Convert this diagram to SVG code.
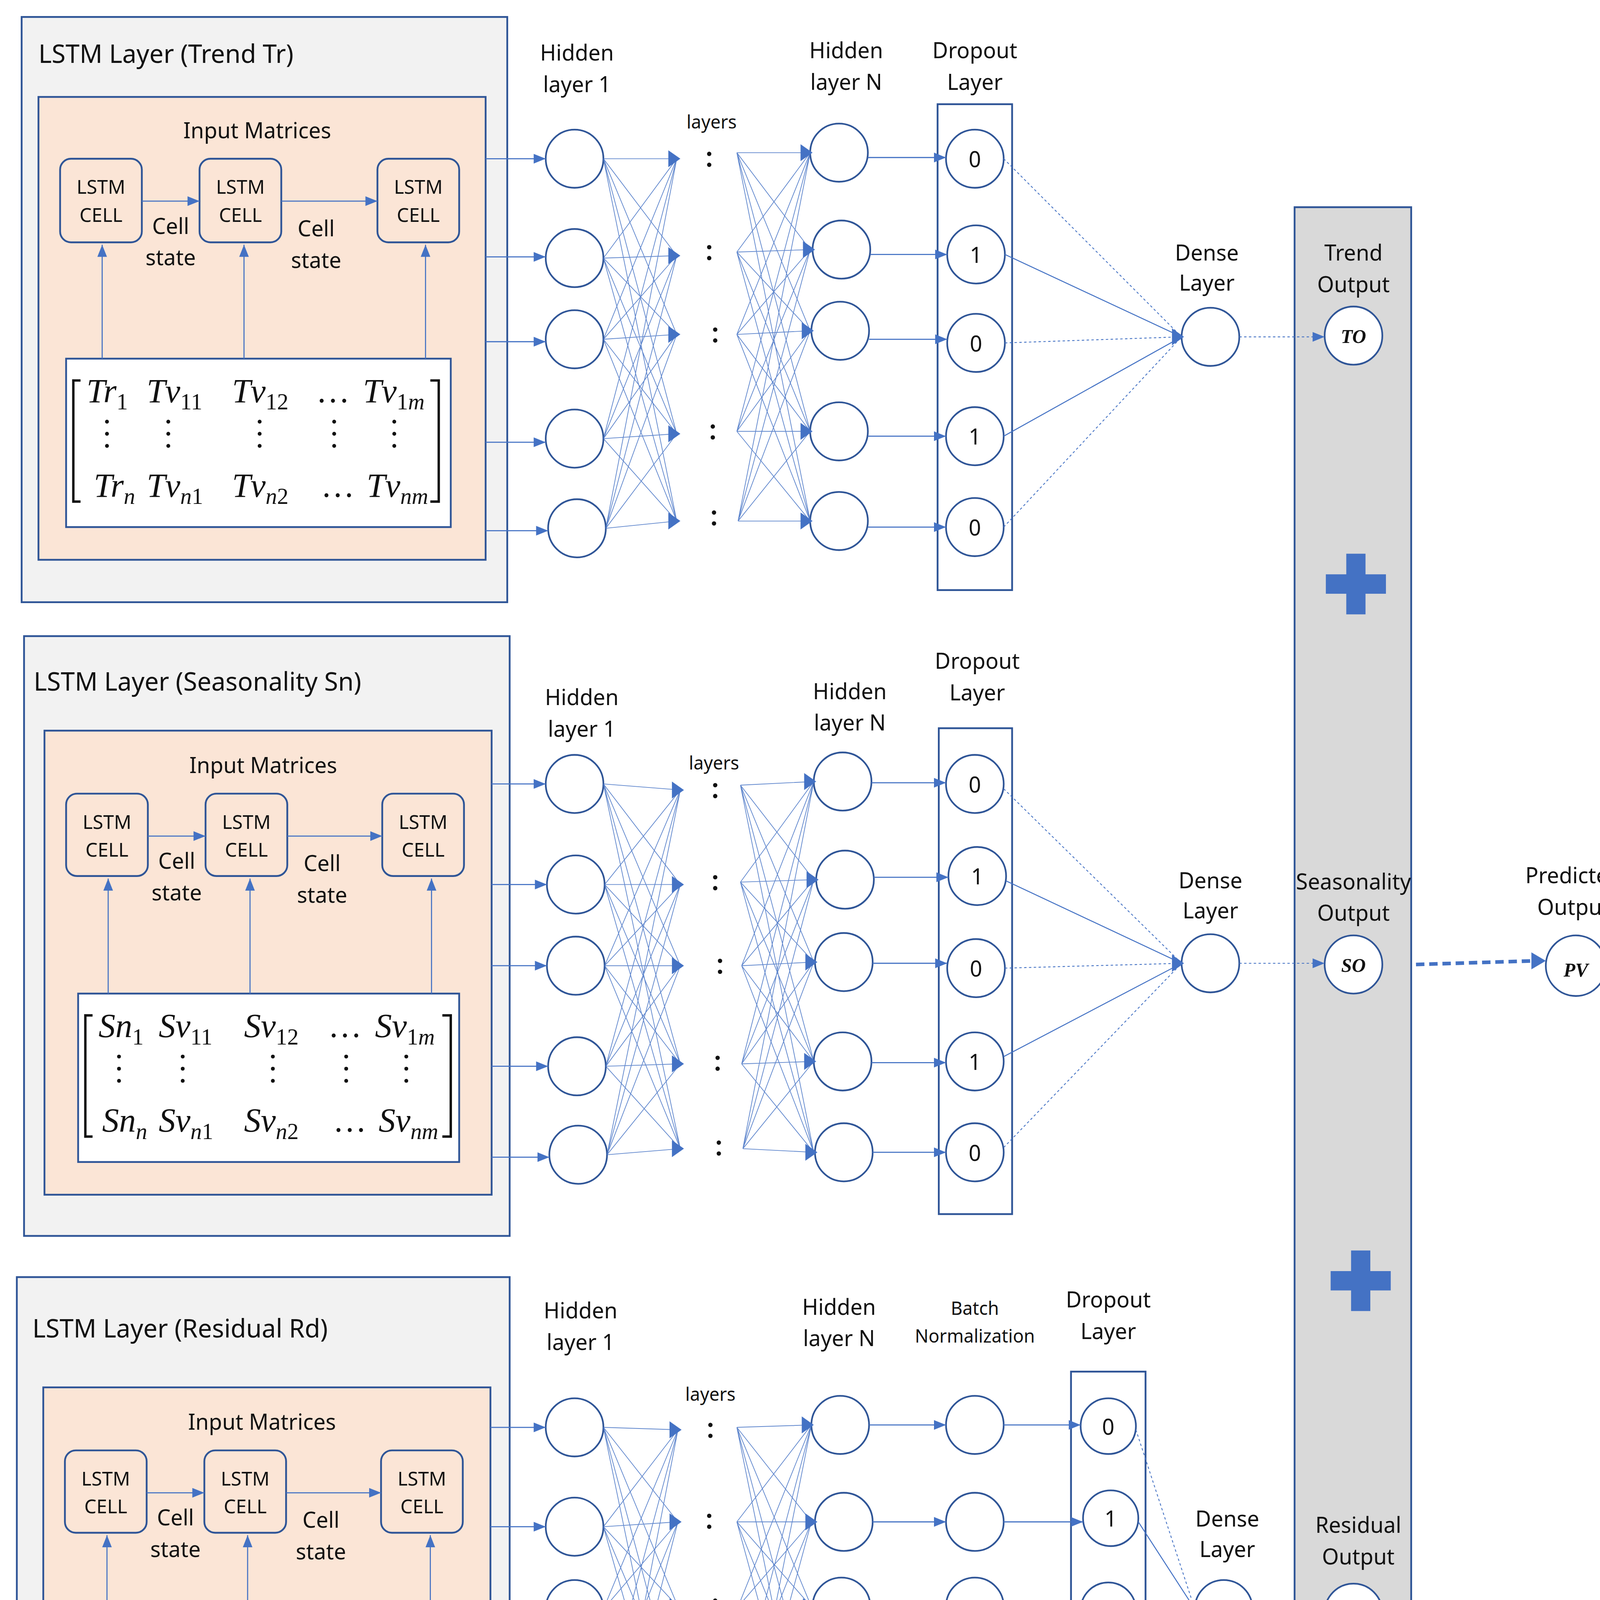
<svg xmlns="http://www.w3.org/2000/svg" width="4185" height="4839" viewBox="0 0 4185 4839">
<defs>
<style>
.ob{fill:#f2f2f2;stroke:#2f5597;stroke-width:1.5}
.ib{fill:#fbe5d6;stroke:#2f5597;stroke-width:1.5}
.cell{fill:#fbe5d6;stroke:#2f5597;stroke-width:1.5}
.mb{fill:#fff;stroke:#2f5597;stroke-width:1.5}
.nd{fill:#fff;stroke:#2f5597;stroke-width:1.4}
.col{fill:none;stroke:#2f5597;stroke-width:1.5}
.t{font-family:"Noto Sans","DejaVu Sans",sans-serif;fill:#111}
.tl{font-size:21px}
.lb{font-size:18px;text-anchor:middle}
.cs{font-size:16px;text-anchor:middle}
.sm{font-size:15px;text-anchor:middle}
.ln{fill:none;stroke:#4472c4;stroke-width:0.9}
.mesh{fill:none;stroke:#4472c4;stroke-width:0.6;opacity:0.85}
.dl{fill:none;stroke:#4472c4;stroke-width:0.7;stroke-dasharray:2 2}
.sl{fill:none;stroke:#4472c4;stroke-width:0.8}
.mx{font-family:"Liberation Serif","DejaVu Serif",serif;font-style:italic;font-size:28px;fill:#111}
.dot{fill:#111}
.br{fill:none;stroke:#111;stroke-width:2}
.ah{fill:#4472c4}
.ov{font-family:"Liberation Serif",serif;font-style:italic;font-weight:bold;font-size:16px;text-anchor:middle;fill:#111}
</style>
<marker id="ar" markerUnits="userSpaceOnUse" markerWidth="10" markerHeight="10" viewBox="0 0 10 10" refX="10" refY="5" orient="auto"><path d="M0 1 L10 5 L0 9 Z" fill="#4472c4"/></marker>
<g id="dots"><circle cx="0" cy="0" r="1.6"/><circle cx="0" cy="10" r="1.6"/><circle cx="0" cy="20" r="1.6"/></g>
</defs>
<rect width="4185" height="4839" fill="#fff"/>
<g transform="scale(3.0772,3.1019)">

<!-- PANEL 1 -->
<g id="panel1">
<rect class="ob" x="18" y="14" width="404" height="483"/>
<text class="t tl" x="32" y="52">LSTM Layer (Trend Tr)</text>
<rect class="ib" x="32" y="80" width="372" height="382"/>
<text class="t lb" x="214" y="114">Input Matrices</text>
<g id="p1cells">
<rect class="cell" x="50" y="131" width="68" height="69" rx="9"/><text class="t cs" x="84" y="160">LSTM</text><text class="t cs" x="84" y="183">CELL</text>
<rect class="cell" x="166" y="131" width="68" height="69" rx="9"/><text class="t cs" x="200" y="160">LSTM</text><text class="t cs" x="200" y="183">CELL</text>
<rect class="cell" x="314" y="131" width="68" height="69" rx="9"/><text class="t cs" x="348" y="160">LSTM</text><text class="t cs" x="348" y="183">CELL</text>
<text class="t lb" x="142" y="193">Cell</text><text class="t lb" x="142" y="219">state</text>
<text class="t lb" x="263" y="195">Cell</text><text class="t lb" x="263" y="221">state</text>
</g>
<g transform="translate(55,296)">
<rect class="mb" x="0" y="0" width="320" height="139"/>
<path class="br" d="M12 18 L6 18 L6 118 L12 118 M303 18 L310 18 L310 118 L303 118"/>
<text class="mx" x="17" y="36">Tr<tspan dy="6" font-size="19" font-style="normal">1</tspan></text>
<text class="mx" x="67" y="36">Tv<tspan dy="6" font-size="19" font-style="normal">11</tspan></text>
<text class="mx" x="138" y="36">Tv<tspan dy="6" font-size="19" font-style="normal">12</tspan></text>
<text class="mx" x="210" y="36" font-style="normal" font-size="20">…</text>
<text class="mx" x="247" y="36">Tv<tspan dy="6" font-size="19"><tspan font-style="normal">1</tspan>m</tspan></text>
<g class="dot"><use href="#dots" x="34" y="52"/><use href="#dots" x="85" y="52"/><use href="#dots" x="161" y="52"/><use href="#dots" x="223" y="52"/><use href="#dots" x="273" y="52"/></g>
<text class="mx" x="23" y="114">Tr<tspan dy="6" font-size="19">n</tspan></text>
<text class="mx" x="67" y="114">Tv<tspan dy="6" font-size="19">n<tspan font-style="normal">1</tspan></tspan></text>
<text class="mx" x="138" y="114">Tv<tspan dy="6" font-size="19">n<tspan font-style="normal">2</tspan></tspan></text>
<text class="mx" x="214" y="114" font-style="normal" font-size="20">…</text>
<text class="mx" x="250" y="114">Tv<tspan dy="6" font-size="19">nm</tspan></text>
</g>
<text class="t lb" x="480" y="50">Hidden</text><text class="t lb" x="480" y="76">layer 1</text>
<text class="t sm" x="592" y="106">layers</text>
<text class="t lb" x="704" y="48">Hidden</text><text class="t lb" x="704" y="74">layer N</text>
<text class="t lb" x="811" y="48">Dropout</text><text class="t lb" x="811" y="74">Layer</text>
<text class="t lb" x="1004" y="215">Dense</text><text class="t lb" x="1004" y="240">Layer</text>
<g id="p1h1"><circle class="nd" cx="478" cy="131" r="24"/><circle class="nd" cx="478" cy="213" r="24"/><circle class="nd" cx="478" cy="280" r="24"/><circle class="nd" cx="478" cy="362" r="24"/><circle class="nd" cx="480" cy="436" r="24"/></g>
<g class="dot"><circle cx="590" cy="127" r="1.8"/><circle cx="590" cy="136" r="1.8"/><circle cx="590" cy="204" r="1.8"/><circle cx="590" cy="213" r="1.8"/><circle cx="595" cy="272" r="1.8"/><circle cx="595" cy="281" r="1.8"/><circle cx="593" cy="352" r="1.8"/><circle cx="593" cy="361" r="1.8"/><circle cx="594" cy="423" r="1.8"/><circle cx="594" cy="432" r="1.8"/></g>
<g id="p1hn"><circle class="nd" cx="698" cy="126" r="24"/><circle class="nd" cx="700" cy="206" r="24"/><circle class="nd" cx="699" cy="273" r="24"/><circle class="nd" cx="698" cy="356" r="24"/><circle class="nd" cx="698" cy="430" r="24"/></g>
<rect class="col" x="780" y="86" width="62" height="401"/>
<g id="p1do"><circle class="nd" cx="811" cy="131" r="24"/><circle class="nd" cx="812" cy="210" r="24"/><circle class="nd" cx="812" cy="283" r="24"/><circle class="nd" cx="811" cy="360" r="24"/><circle class="nd" cx="811" cy="435" r="24"/>
<text class="t lb" x="811" y="138">0</text><text class="t lb" x="812" y="217">1</text><text class="t lb" x="812" y="290">0</text><text class="t lb" x="811" y="367">1</text><text class="t lb" x="811" y="442">0</text></g>
<circle id="p1dense" class="nd" cx="1007" cy="278" r="24"/>
</g>

<!-- PANEL 2 -->
<g id="panel2">
<rect class="ob" x="20" y="525" width="404" height="495"/>
<text class="t tl" x="28" y="570">LSTM Layer (Seasonality Sn)</text>
<rect class="ib" x="37" y="603" width="372" height="383"/>
<text class="t lb" x="219" y="638">Input Matrices</text>
<rect class="cell" x="55" y="655" width="68" height="68" rx="9"/><text class="t cs" x="89" y="684">LSTM</text><text class="t cs" x="89" y="707">CELL</text>
<rect class="cell" x="171" y="655" width="68" height="68" rx="9"/><text class="t cs" x="205" y="684">LSTM</text><text class="t cs" x="205" y="707">CELL</text>
<rect class="cell" x="318" y="655" width="68" height="68" rx="9"/><text class="t cs" x="352" y="684">LSTM</text><text class="t cs" x="352" y="707">CELL</text>
<text class="t lb" x="147" y="717">Cell</text><text class="t lb" x="147" y="743">state</text>
<text class="t lb" x="268" y="719">Cell</text><text class="t lb" x="268" y="745">state</text>
<g transform="translate(65,820)">
<rect class="mb" x="0" y="0" width="317" height="139"/>
<path class="br" d="M12 18 L6 18 L6 118 L12 118 M303 18 L310 18 L310 118 L303 118"/>
<text class="mx" x="17" y="36">Sn<tspan dy="6" font-size="19" font-style="normal">1</tspan></text>
<text class="mx" x="67" y="36">Sv<tspan dy="6" font-size="19" font-style="normal">11</tspan></text>
<text class="mx" x="138" y="36">Sv<tspan dy="6" font-size="19" font-style="normal">12</tspan></text>
<text class="mx" x="210" y="36" font-style="normal" font-size="20">…</text>
<text class="mx" x="247" y="36">Sv<tspan dy="6" font-size="19"><tspan font-style="normal">1</tspan>m</tspan></text>
<g class="dot"><use href="#dots" x="34" y="52"/><use href="#dots" x="87" y="52"/><use href="#dots" x="162" y="52"/><use href="#dots" x="223" y="52"/><use href="#dots" x="273" y="52"/></g>
<text class="mx" x="20" y="114">Sn<tspan dy="6" font-size="19">n</tspan></text>
<text class="mx" x="67" y="114">Sv<tspan dy="6" font-size="19">n<tspan font-style="normal">1</tspan></tspan></text>
<text class="mx" x="138" y="114">Sv<tspan dy="6" font-size="19">n<tspan font-style="normal">2</tspan></tspan></text>
<text class="mx" x="214" y="114" font-style="normal" font-size="20">…</text>
<text class="mx" x="250" y="114">Sv<tspan dy="6" font-size="19">nm</tspan></text>
</g>
<text class="t lb" x="484" y="582">Hidden</text><text class="t lb" x="484" y="608">layer 1</text>
<text class="t sm" x="594" y="635">layers</text>
<text class="t lb" x="707" y="577">Hidden</text><text class="t lb" x="707" y="603">layer N</text>
<text class="t lb" x="813" y="552">Dropout</text><text class="t lb" x="813" y="578">Layer</text>
<text class="t lb" x="1007" y="733">Dense</text><text class="t lb" x="1007" y="758">Layer</text>
<g id="p2h1"><circle class="nd" cx="478" cy="647" r="24"/><circle class="nd" cx="479" cy="730" r="24"/><circle class="nd" cx="479" cy="797" r="24"/><circle class="nd" cx="480" cy="880" r="24"/><circle class="nd" cx="481" cy="953" r="24"/></g>
<g class="dot"><circle cx="595" cy="648" r="1.8"/><circle cx="595" cy="657" r="1.8"/><circle cx="595" cy="724" r="1.8"/><circle cx="595" cy="733" r="1.8"/><circle cx="599" cy="793" r="1.8"/><circle cx="599" cy="802" r="1.8"/><circle cx="597" cy="873" r="1.8"/><circle cx="597" cy="882" r="1.8"/><circle cx="598" cy="943" r="1.8"/><circle cx="598" cy="952" r="1.8"/></g>
<g id="p2hn"><circle class="nd" cx="701" cy="645" r="24"/><circle class="nd" cx="703" cy="726" r="24"/><circle class="nd" cx="702" cy="794" r="24"/><circle class="nd" cx="701" cy="876" r="24"/><circle class="nd" cx="702" cy="951" r="24"/></g>
<rect class="col" x="781" y="601" width="61" height="401"/>
<g id="p2do"><circle class="nd" cx="811" cy="647" r="24"/><circle class="nd" cx="813" cy="723" r="24"/><circle class="nd" cx="812" cy="799" r="24"/><circle class="nd" cx="811" cy="876" r="24"/><circle class="nd" cx="811" cy="951" r="24"/>
<text class="t lb" x="811" y="654">0</text><text class="t lb" x="813" y="730">1</text><text class="t lb" x="812" y="806">0</text><text class="t lb" x="811" y="883">1</text><text class="t lb" x="811" y="958">0</text></g>
<circle id="p2dense" class="nd" cx="1007" cy="795" r="24"/>
</g>

<!-- PANEL 3 -->
<g id="panel3">
<rect class="ob" x="14" y="1054" width="410" height="496"/>
<text class="t tl" x="27" y="1104">LSTM Layer (Residual Rd)</text>
<rect class="ib" x="36" y="1145" width="372" height="383"/>
<text class="t lb" x="218" y="1180">Input Matrices</text>
<rect class="cell" x="54" y="1197" width="68" height="68" rx="9"/><text class="t cs" x="88" y="1226">LSTM</text><text class="t cs" x="88" y="1249">CELL</text>
<rect class="cell" x="170" y="1197" width="68" height="68" rx="9"/><text class="t cs" x="204" y="1226">LSTM</text><text class="t cs" x="204" y="1249">CELL</text>
<rect class="cell" x="317" y="1197" width="68" height="68" rx="9"/><text class="t cs" x="351" y="1226">LSTM</text><text class="t cs" x="351" y="1249">CELL</text>
<text class="t lb" x="146" y="1259">Cell</text><text class="t lb" x="146" y="1285">state</text>
<text class="t lb" x="267" y="1261">Cell</text><text class="t lb" x="267" y="1287">state</text>
<g transform="translate(55,1357)">
<rect class="mb" x="0" y="0" width="330" height="146"/>
<path class="br" d="M12 20 L6 20 L6 124 L12 124 M316 20 L323 20 L323 124 L316 124"/>
<text class="mx" x="20" y="38">Rd<tspan dy="6" font-size="19" font-style="normal">1</tspan></text>
<text class="mx" x="75" y="38">Rv<tspan dy="6" font-size="19" font-style="normal">11</tspan></text>
<text class="mx" x="148" y="38">Rv<tspan dy="6" font-size="19" font-style="normal">12</tspan></text>
<text class="mx" x="221" y="38" font-style="normal" font-size="20">…</text>
<text class="mx" x="258" y="38">Rv<tspan dy="6" font-size="19"><tspan font-style="normal">1</tspan>m</tspan></text>
<g class="dot"><use href="#dots" x="40" y="55"/><use href="#dots" x="94" y="55"/><use href="#dots" x="172" y="55"/><use href="#dots" x="234" y="55"/><use href="#dots" x="285" y="55"/></g>
<text class="mx" x="24" y="120">Rd<tspan dy="6" font-size="19">n</tspan></text>
<text class="mx" x="75" y="120">Rv<tspan dy="6" font-size="19">n<tspan font-style="normal">1</tspan></tspan></text>
<text class="mx" x="148" y="120">Rv<tspan dy="6" font-size="19">n<tspan font-style="normal">2</tspan></tspan></text>
<text class="mx" x="225" y="120" font-style="normal" font-size="20">…</text>
<text class="mx" x="262" y="120">Rv<tspan dy="6" font-size="19">nm</tspan></text>
</g>
<text class="t lb" x="483" y="1088">Hidden</text><text class="t lb" x="483" y="1114">layer 1</text>
<text class="t sm" x="591" y="1156">layers</text>
<text class="t lb" x="698" y="1085">Hidden</text><text class="t lb" x="698" y="1111">layer N</text>
<text class="t sm" x="811" y="1085">Batch</text><text class="t sm" x="811" y="1108">Normalization</text>
<text class="t lb" x="922" y="1079">Dropout</text><text class="t lb" x="922" y="1105">Layer</text>
<text class="t lb" x="1021" y="1260">Dense</text><text class="t lb" x="1021" y="1285">Layer</text>
<g id="p3h1"><circle class="nd" cx="478" cy="1178" r="24"/><circle class="nd" cx="478" cy="1260" r="24"/><circle class="nd" cx="478" cy="1328" r="24"/><circle class="nd" cx="478" cy="1410" r="24"/><circle class="nd" cx="481" cy="1484" r="24"/></g>
<g class="dot"><circle cx="591" cy="1176" r="1.8"/><circle cx="591" cy="1185" r="1.8"/><circle cx="590" cy="1251" r="1.8"/><circle cx="590" cy="1260" r="1.8"/><circle cx="595" cy="1321" r="1.8"/><circle cx="595" cy="1330" r="1.8"/><circle cx="593" cy="1401" r="1.8"/><circle cx="593" cy="1410" r="1.8"/><circle cx="594" cy="1471" r="1.8"/><circle cx="594" cy="1480" r="1.8"/></g>
<g id="p3hn"><circle class="nd" cx="699" cy="1176" r="24"/><circle class="nd" cx="702" cy="1256" r="24"/><circle class="nd" cx="700" cy="1326" r="24"/><circle class="nd" cx="701" cy="1408" r="24"/><circle class="nd" cx="701" cy="1481" r="24"/></g>
<g id="p3bn"><circle class="nd" cx="811" cy="1176" r="24"/><circle class="nd" cx="811" cy="1256" r="24"/><circle class="nd" cx="811" cy="1326" r="24"/><circle class="nd" cx="811" cy="1408" r="24"/><circle class="nd" cx="811" cy="1481" r="24"/></g>
<rect class="col" x="891" y="1132" width="62" height="401"/>
<g id="p3do"><circle class="nd" cx="922" cy="1177" r="23"/><circle class="nd" cx="924" cy="1253" r="23"/><circle class="nd" cx="922" cy="1329" r="23"/><circle class="nd" cx="922" cy="1406" r="23"/><circle class="nd" cx="922" cy="1482" r="23"/>
<text class="t lb" x="922" y="1184">0</text><text class="t lb" x="924" y="1260">1</text><text class="t lb" x="922" y="1336">0</text><text class="t lb" x="922" y="1413">1</text><text class="t lb" x="922" y="1489">0</text></g>
<circle id="p3dense" class="nd" cx="1018" cy="1328" r="24"/>
</g>

<!-- OUTPUT COLUMN -->
<g id="outputs">
<rect x="1077" y="171" width="97" height="1212" fill="#d9d9d9" stroke="#2f5597" stroke-width="1.5"/>
<text class="t lb" x="1126" y="215">Trend</text><text class="t lb" x="1126" y="241">Output</text>
<circle class="nd" cx="1126" cy="277" r="24"/><text class="ov" x="1126" y="283">TO</text>
<path class="ah" d="M1120 457 H1136 V474 H1153 V490 H1136 V507 H1120 V490 H1103 V474 H1120 Z"/>
<text class="t lb" x="1126" y="734">Seasonality</text><text class="t lb" x="1126" y="760">Output</text>
<circle class="nd" cx="1126" cy="796" r="24"/><text class="ov" x="1126" y="802">SO</text>
<path class="ah" d="M1124 1032 H1140 V1049 H1157 V1065 H1140 V1082 H1124 V1065 H1107 V1049 H1124 Z"/>
<text class="t lb" x="1130" y="1265">Residual</text><text class="t lb" x="1130" y="1291">Output</text>
<circle class="nd" cx="1126" cy="1331" r="24"/><text class="ov" x="1126" y="1337">RO</text>
</g>
<g id="predicted">
<text class="t lb" x="1309" y="729">Predicted</text><text class="t lb" x="1309" y="755">Output</text>
<circle class="nd" cx="1311" cy="797" r="25"/><text class="ov" x="1311" y="806" font-size="26">PV</text>
</g>

<!-- CONNECTORS -->
<g id="connectors">
<!-- panel 1 -->
<path class="ln" marker-end="url(#ar)" d="M118 166 H166"/>
<path class="ln" marker-end="url(#ar)" d="M234 166 H314"/>
<path class="ln" marker-end="url(#ar)" d="M85 296 V202"/>
<path class="ln" marker-end="url(#ar)" d="M203 296 V202"/>
<path class="ln" marker-end="url(#ar)" d="M354 296 V202"/>
<path class="ln" marker-end="url(#ar)" d="M404 131 H454"/>
<path class="ln" marker-end="url(#ar)" d="M404 212 H454"/>
<path class="ln" marker-end="url(#ar)" d="M404 282 H454"/>
<path class="ln" marker-end="url(#ar)" d="M404 365 H454"/>
<path class="ln" marker-end="url(#ar)" d="M404 438 H456"/>
<path class="mesh" d="M502 131L563 131M502 131L563 211M502 131L563 276M502 131L563 358M502 131L563 430M502 213L563 131M502 213L563 211M502 213L563 276M502 213L563 358M502 213L563 430M502 280L563 131M502 280L563 211M502 280L563 276M502 280L563 358M502 280L563 430M502 362L563 131M502 362L563 211M502 362L563 276M502 362L563 358M502 362L563 430M504 436L563 131M504 436L563 211M504 436L563 276M504 436L563 358M504 436L563 430"/>
<path class="ah" d="M556 124L566 131L556 138ZM556 204L566 211L556 218ZM556 269L566 276L556 283ZM556 351L566 358L556 365ZM556 423L566 430L556 437Z"/>
<path class="mesh" d="M613 126L674 126M613 126L674 206M613 126L674 273M613 126L674 356M613 126L674 430M613 208L674 126M613 208L674 206M613 208L674 273M613 208L674 356M613 208L674 430M613 276L674 126M613 276L674 206M613 276L674 273M613 276L674 356M613 276L674 430M613 356L674 126M613 356L674 206M613 356L674 273M613 356L674 356M613 356L674 430M614 430L674 126M614 430L674 206M614 430L674 273M614 430L674 356M614 430L674 430"/>
<path class="ah" d="M666 119L676 126L666 133ZM668 199L678 206L668 213ZM667 266L677 273L667 280ZM666 349L676 356L666 363ZM666 423L676 430L666 437Z"/>
<path class="ln" marker-end="url(#ar)" d="M722 130 H787"/>
<path class="ln" marker-end="url(#ar)" d="M724 210 H788"/>
<path class="ln" marker-end="url(#ar)" d="M723 280 H788"/>
<path class="ln" marker-end="url(#ar)" d="M722 360 H787"/>
<path class="ln" marker-end="url(#ar)" d="M722 435 H787"/>
<path class="dl" d="M835 131 L983 278"/>
<path class="sl" d="M836 210 L983 278"/>
<path class="dl" d="M836 283 L983 278"/>
<path class="sl" d="M835 360 L983 278"/>
<path class="dl" d="M835 435 L983 278"/>
<path class="ah" d="M975 271L985 278L975 285Z"/>
<path class="dl" marker-end="url(#ar)" d="M1031 278 H1102"/>
<!-- panel 2 -->
<path class="ln" marker-end="url(#ar)" d="M123 690 H171"/>
<path class="ln" marker-end="url(#ar)" d="M239 690 H318"/>
<path class="ln" marker-end="url(#ar)" d="M90 820 V725"/>
<path class="ln" marker-end="url(#ar)" d="M208 820 V725"/>
<path class="ln" marker-end="url(#ar)" d="M359 820 V725"/>
<path class="ln" marker-end="url(#ar)" d="M409 647 H454"/>
<path class="ln" marker-end="url(#ar)" d="M409 730 H455"/>
<path class="ln" marker-end="url(#ar)" d="M409 797 H455"/>
<path class="ln" marker-end="url(#ar)" d="M409 880 H456"/>
<path class="ln" marker-end="url(#ar)" d="M409 955 H457"/>
<path class="mesh" d="M502 647L566 652M502 647L566 730M502 647L566 797M502 647L566 878M502 647L566 948M503 730L566 652M503 730L566 730M503 730L566 797M503 730L566 878M503 730L566 948M503 797L566 652M503 797L566 730M503 797L566 797M503 797L566 878M503 797L566 948M504 880L566 652M504 880L566 730M504 880L566 797M504 880L566 878M504 880L566 948M505 953L566 652M505 953L566 730M505 953L566 797M505 953L566 878M505 953L566 948"/>
<path class="ah" d="M559 645L569 652L559 659ZM559 723L569 730L559 737ZM559 790L569 797L559 804ZM559 871L569 878L559 885ZM559 941L569 948L559 955Z"/>
<path class="mesh" d="M616 648L677 645M616 648L677 726M616 648L677 794M616 648L677 876M616 648L677 951M616 728L677 645M616 728L677 726M616 728L677 794M616 728L677 876M616 728L677 951M617 797L677 645M617 797L677 726M617 797L677 794M617 797L677 876M617 797L677 951M617 878L677 645M617 878L677 726M617 878L677 794M617 878L677 876M617 878L677 951M618 948L677 645M618 948L677 726M618 948L677 794M618 948L677 876M618 948L677 951"/>
<path class="ah" d="M669 638L679 645L669 652ZM671 719L681 726L671 733ZM670 787L680 794L670 801ZM669 869L679 876L669 883ZM670 944L680 951L670 958Z"/>
<path class="ln" marker-end="url(#ar)" d="M725 646 H787"/>
<path class="ln" marker-end="url(#ar)" d="M727 724 H789"/>
<path class="ln" marker-end="url(#ar)" d="M726 795 H788"/>
<path class="ln" marker-end="url(#ar)" d="M725 877 H787"/>
<path class="ln" marker-end="url(#ar)" d="M726 951 H787"/>
<path class="dl" d="M835 651 L983 795"/>
<path class="sl" d="M837 727 L983 795"/>
<path class="dl" d="M836 799 L983 795"/>
<path class="sl" d="M835 872 L983 795"/>
<path class="dl" d="M835 947 L983 795"/>
<path class="ah" d="M975 788L985 795L975 802Z"/>
<path class="dl" marker-end="url(#ar)" d="M1031 795 H1102"/>
<!-- panel 3 -->
<path class="ln" marker-end="url(#ar)" d="M122 1232 H170"/>
<path class="ln" marker-end="url(#ar)" d="M238 1232 H317"/>
<path class="ln" marker-end="url(#ar)" d="M89 1357 V1267"/>
<path class="ln" marker-end="url(#ar)" d="M206 1357 V1267"/>
<path class="ln" marker-end="url(#ar)" d="M358 1357 V1267"/>
<path class="ln" marker-end="url(#ar)" d="M408 1178 H454"/>
<path class="ln" marker-end="url(#ar)" d="M408 1260 H454"/>
<path class="ln" marker-end="url(#ar)" d="M408 1328 H454"/>
<path class="ln" marker-end="url(#ar)" d="M408 1412 H454"/>
<path class="ln" marker-end="url(#ar)" d="M408 1486 H457"/>
<path class="mesh" d="M502 1178L564 1180M502 1178L564 1256M502 1178L564 1326M502 1178L564 1406M502 1178L564 1476M502 1260L564 1180M502 1260L564 1256M502 1260L564 1326M502 1260L564 1406M502 1260L564 1476M502 1328L564 1180M502 1328L564 1256M502 1328L564 1326M502 1328L564 1406M502 1328L564 1476M502 1410L564 1180M502 1410L564 1256M502 1410L564 1326M502 1410L564 1406M502 1410L564 1476M505 1484L564 1180M505 1484L564 1256M505 1484L564 1326M505 1484L564 1406M505 1484L564 1476"/>
<path class="ah" d="M557 1173L567 1180L557 1187ZM557 1249L567 1256L557 1263ZM557 1319L567 1326L557 1333ZM557 1399L567 1406L557 1413ZM557 1469L567 1476L557 1483Z"/>
<path class="mesh" d="M613 1178L675 1176M613 1178L675 1256M613 1178L675 1326M613 1178L675 1408M613 1178L675 1481M613 1256L675 1176M613 1256L675 1256M613 1256L675 1326M613 1256L675 1408M613 1256L675 1481M614 1326L675 1176M614 1326L675 1256M614 1326L675 1326M614 1326L675 1408M614 1326L675 1481M614 1406L675 1176M614 1406L675 1256M614 1406L675 1326M614 1406L675 1408M614 1406L675 1481M615 1476L675 1176M615 1476L675 1256M615 1476L675 1326M615 1476L675 1408M615 1476L675 1481"/>
<path class="ah" d="M667 1169L677 1176L667 1183ZM670 1249L680 1256L670 1263ZM668 1319L678 1326L668 1333ZM669 1401L679 1408L669 1415ZM669 1474L679 1481L669 1488Z"/>
<path class="ln" marker-end="url(#ar)" d="M723 1176 H787"/>
<path class="ln" marker-end="url(#ar)" d="M726 1256 H787"/>
<path class="ln" marker-end="url(#ar)" d="M724 1326 H787"/>
<path class="ln" marker-end="url(#ar)" d="M725 1408 H787"/>
<path class="ln" marker-end="url(#ar)" d="M725 1481 H787"/>
<path class="ln" marker-end="url(#ar)" d="M835 1176 H899"/>
<path class="ln" marker-end="url(#ar)" d="M835 1256 H901"/>
<path class="ln" marker-end="url(#ar)" d="M835 1327 H899"/>
<path class="ln" marker-end="url(#ar)" d="M835 1408 H899"/>
<path class="ln" marker-end="url(#ar)" d="M835 1481 H899"/>
<path class="dl" d="M945 1180 L994 1328"/>
<path class="sl" d="M947 1256 L994 1328"/>
<path class="dl" d="M945 1329 L994 1328"/>
<path class="sl" d="M945 1403 L994 1328"/>
<path class="dl" d="M945 1478 L994 1328"/>
<path class="ah" d="M986 1321L996 1328L986 1335Z"/>
<path class="dl" marker-end="url(#ar)" d="M1042 1328 H1101"/>
<!-- final -->
<path d="M1178 796 L1276 793" fill="none" stroke="#4472c4" stroke-width="3" stroke-dasharray="7 4"/>
<path class="ah" d="M1274 786 L1286 793 L1274 800 Z"/>
</g>
</g>
</svg>
